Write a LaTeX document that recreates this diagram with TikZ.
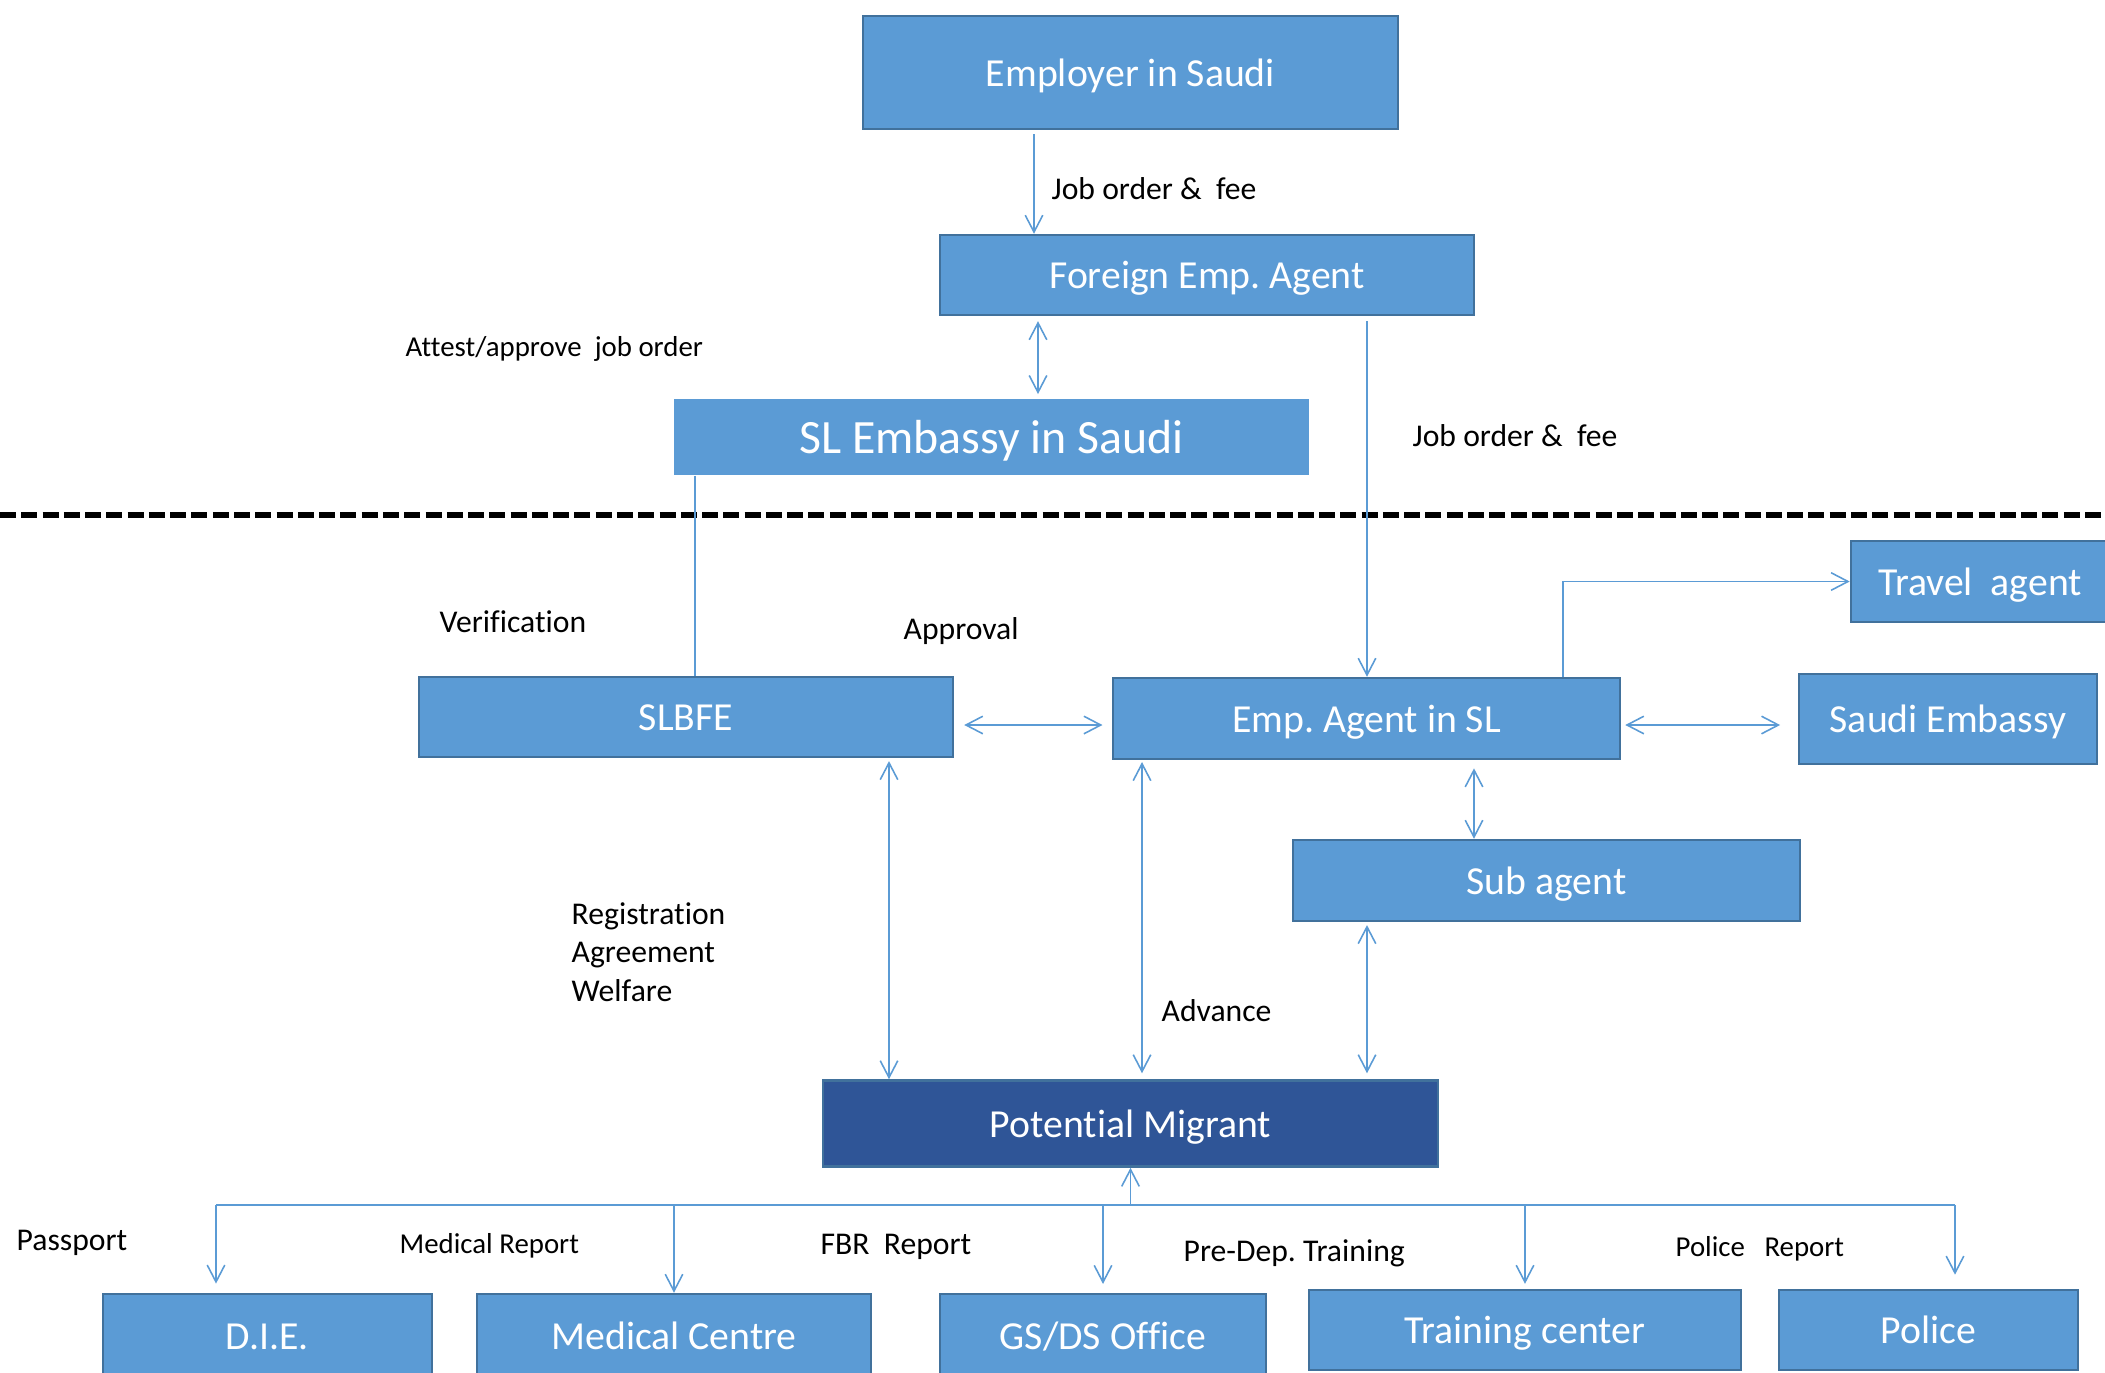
\documentclass[tikz,border=0pt]{standalone}
\usepackage{fontspec}
\setmainfont{Carlito}[Ligatures=NoCommon]
\usetikzlibrary{arrows.meta,calc}
\definecolor{boxfill}{HTML}{5B9BD5}
\definecolor{boxline}{HTML}{41719C}
\definecolor{darkfill}{HTML}{2F5597}
\definecolor{linkcol}{HTML}{5B9BD5}
\frenchspacing

\begin{document}
\begin{tikzpicture}[x=0.01cm,y=-0.01cm,
  wh/.style 2 args={minimum width=#1*0.1mm, minimum height=#2*0.1mm},
  box/.style={draw=boxline, line width=0.7pt, fill=boxfill, text=white,
    inner sep=0pt, text height=9.5pt, text depth=1.7pt,
    font=\fontsize{11.3}{13}\selectfont},
  plainbox/.style={fill=boxfill, text=white, inner sep=0pt,
    text height=11.4pt, text depth=2pt,
    font=\fontsize{13.6}{16}\selectfont},
  lab/.style={anchor=west, inner sep=0pt, font=\fontsize{9}{10.95}\selectfont},
  smalllab/.style={lab, font=\fontsize{8.2}{10}\selectfont},
  link/.style={draw=linkcol, line width=0.45pt},
  arr/.style={link, -{Straight Barb[length=4.8pt,width=5pt]}},
  darr/.style={link, {Straight Barb[length=4.8pt,width=5pt]}-{Straight Barb[length=4.8pt,width=5pt]}},
  divider/.style={draw=black, line width=1.7pt, dash pattern=on 4.55pt off 1.5pt},
]
\useasboundingbox (0,0) rectangle (2105,1372);
\clip (0,0) rectangle (2105,1372);

% boxes
\node[box, wh={535}{113}] (emp) at (1130.5,72.5) {Employer in Saudi};
\node[box, wh={534}{80}] (fea) at (1207,275) {Foreign Emp. Agent};
\node[plainbox, wh={635}{76}] (sle) at (991.5,437) {SL Embassy in Saudi};
\node[box, wh={258}{81}] (trav) at (1980,581.5) {Travel\ \ agent};
\node[box, wh={534}{80}] (slbfe) at (686,717) {SLBFE};
\node[box, wh={507}{81}] (eas) at (1366.5,718.5) {Emp. Agent in SL};
\node[box, wh={298}{90}] (sem) at (1948,719) {Saudi Embassy};
\node[box, wh={507}{81}] (sub) at (1546.5,880.5) {Sub agent};
\node[box, fill=darkfill, wh={615}{86}] (pm) at (1130.5,1123.5) {Potential Migrant};
\node[box, wh={329}{84}] (die) at (267.5,1336) {D.I.E.};
\node[box, wh={394}{84}] (med) at (674,1336) {Medical Centre};
\node[box, wh={326}{84}] (gs) at (1103,1336) {GS/DS Office};
\node[box, wh={432}{80}] (tc) at (1525,1330) {Training center};
\node[box, wh={299}{80}] (pol) at (1928.5,1330) {Police};

% border between Saudi side and Sri Lanka side
\coordinate (divL) at (0,515);
\coordinate (divR) at (2105,515);
\draw[divider] (divL) -- (divR);

% connectors
\draw[arr, shorten <=1.2pt] (emp.south -| 1034,0) -- (fea.north -| 1034,0);
\draw[darr, shorten <=1.4pt, shorten >=1.2pt] (fea.south -| 1038,0) -- (sle.north -| 1038,0);
\draw[arr, shorten <=1.4pt] (fea.south -| 1367,0) -- (eas.north -| 1367,0);
\draw[link] (sle.south -| 695,0) -- (slbfe.north -| 695,0);
\draw[darr, shorten <=2.8pt, shorten >=2.6pt] (slbfe.east |- 0,725) -- (eas.west |- 0,725);
\draw[arr] (eas.north -| 1563,0) |- (trav.west);
\draw[darr, shorten <=1.1pt, shorten >=5pt] (eas.east |- 0,725) -- (sem.west |- 0,725);
\draw[darr, shorten <=2.3pt] (eas.south -| 1474,0) -- (sub.north -| 1474,0);
\draw[darr, shorten <=0.8pt] (slbfe.south -| 889,0) -- (pm.north -| 889,0);
\draw[darr, shorten <=0.5pt, shorten >=1.7pt] (eas.south -| 1142,0) -- (pm.north -| 1142,0);
\draw[darr, shorten <=0.8pt, shorten >=1.7pt] (sub.south -| 1367,0) -- (pm.north -| 1367,0);

% distribution bus below the migrant
\coordinate (bus) at (1130.5,1205);
\coordinate (busL) at (216,1205);
\coordinate (busR) at (1955,1205);
\draw[arr] (bus) -- (pm.south);
\draw[link] (busL) -- (busR);
\draw[arr, shorten >=2.6pt] (busL) -- (die.north -| busL);
\draw[arr] (med.north |- busL) -- (med.north);
\draw[arr, shorten >=2.5pt] (gs.north |- busL) -- (gs.north);
\draw[arr, shorten >=1.4pt] (tc.north |- busL) -- (tc.north);
\draw[arr, shorten >=4pt] (busR) -- (pol.north -| busR);

% labels
\node[lab] (l1) at (1051,189) {Job order \&\ \ fee};
\node[smalllab] (l2) at (405,349) {Attest/approve\ \ job order};
\node[lab] (l3) at (1412,436) {Job order \&\ \ fee};
\node[lab] (l4) at (439,622) {Verification};
\node[lab] (l5) at (903,631) {Approval};
\node[lab, align=left] (l6) at (571,952) {Registration\\Agreement\\Welfare};
\node[lab] (l7) at (1161,1011) {Advance};
\node[lab] (l8) at (16,1243) {Passport};
\node[smalllab] (l9) at (399,1246) {Medical Report};
\node[lab] (l10) at (820,1247) {FBR\ \ Report};
\node[lab] (l11) at (1183,1253) {Pre-Dep. Training};
\node[smalllab] (l12) at (1675,1249) {Police\ \ \ Report};
\end{tikzpicture}
\end{document}
